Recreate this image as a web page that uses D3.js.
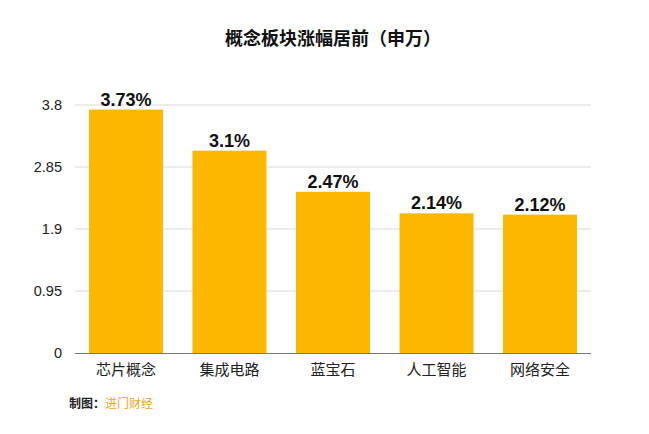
<!DOCTYPE html>
<html>
<head>
<meta charset="utf-8">
<script src="https://cdn.jsdelivr.net/npm/d3@7"></script>
<style>
  body { margin: 0; background: #fff; }
  text { font-family: 'Helvetica Neue', Arial, 'Noto Sans CJK SC', sans-serif; }
</style>
</head>
<body>
<div id="screen"></div>
<script>
const categories = ['芯片概念', '集成电路', '蓝宝石', '人工智能', '网络安全']
const values = [3.73, 3.1, 2.47, 2.14, 2.12]
const valueLabels = ['3.73%', '3.1%', '2.47%', '2.14%', '2.12%']
const yTicks = [0, 0.95, 1.9, 2.85, 3.8]

const width = 649
const height = 434
const margin = { top: 105, right: 58, bottom: 81, left: 75 }
const cjk = "'Noto Sans CJK SC', sans-serif"
const latin = "'Liberation Sans', Arial, sans-serif"

const svg = d3.select('#screen').append('svg')
  .attr('width', width)
  .attr('height', height)

const x = d3.scaleBand()
  .domain(categories)
  .range([margin.left, width - margin.right])
  .paddingInner(0.285)
  .paddingOuter(0.135)

const y = d3.scaleLinear()
  .domain([0, 3.8])
  .range([height - margin.bottom, margin.top])

// titre
svg.append('text')
  .attr('x', 333)
  .attr('y', 45)
  .attr('text-anchor', 'middle')
  .attr('font-family', cjk)
  .attr('font-weight', 'bold')
  .attr('font-size', '18px')
  .attr('fill', '#111')
  .text('概念板块涨幅居前（申万）')

// grille
svg.append('g')
  .selectAll('line')
  .data(yTicks.filter(d => d > 0))
  .join('line')
  .attr('x1', margin.left)
  .attr('x2', width - margin.right)
  .attr('y1', d => y(d))
  .attr('y2', d => y(d))
  .attr('stroke', '#d9d9d9')
  .attr('stroke-width', 1)

// axe y
const yAxis = svg.append('g')
  .attr('transform', `translate(${margin.left},0)`)
  .call(d3.axisLeft(y).tickValues(yTicks).tickSize(0).tickPadding(13).tickFormat(d => String(d)))
yAxis.select('.domain').remove()
yAxis.selectAll('text')
  .attr('font-family', latin)
  .attr('font-size', '14.5px')
  .attr('fill', '#222')

// barres
svg.selectAll('rect.bar')
  .data(values)
  .join('rect')
  .attr('class', 'bar')
  .attr('x', (d, i) => x(categories[i]))
  .attr('y', d => y(d))
  .attr('width', x.bandwidth())
  .attr('height', d => y(0) - y(d))
  .attr('fill', '#fcb800')

// étiquettes de valeurs
svg.selectAll('text.val')
  .data(values)
  .join('text')
  .attr('class', 'val')
  .attr('x', (d, i) => x(categories[i]) + x.bandwidth() / 2)
  .attr('y', d => y(d) - 4)
  .attr('text-anchor', 'middle')
  .attr('font-family', latin)
  .attr('font-weight', 'bold')
  .attr('font-size', '18px')
  .attr('fill', '#111')
  .text((d, i) => valueLabels[i])

// axe x
const xAxis = svg.append('g')
  .attr('transform', `translate(0,${y(0)})`)
  .call(d3.axisBottom(x).tickSize(0).tickPadding(11))
xAxis.select('.domain')
  .attr('stroke', '#777')
  .attr('d', `M${margin.left},0.5H${width - margin.right}`)
xAxis.selectAll('text')
  .attr('font-family', cjk)
  .attr('font-size', '15px')
  .attr('fill', '#222')

// source
const src = svg.append('text')
  .attr('x', 69)
  .attr('y', 408)
  .attr('font-family', cjk)
  .attr('font-size', '12px')
src.append('tspan').attr('font-weight', 'bold').attr('fill', '#222').text('制图：')
src.append('tspan').attr('fill', '#f0a518').text('进门财经')
</script>
</body>
</html>
